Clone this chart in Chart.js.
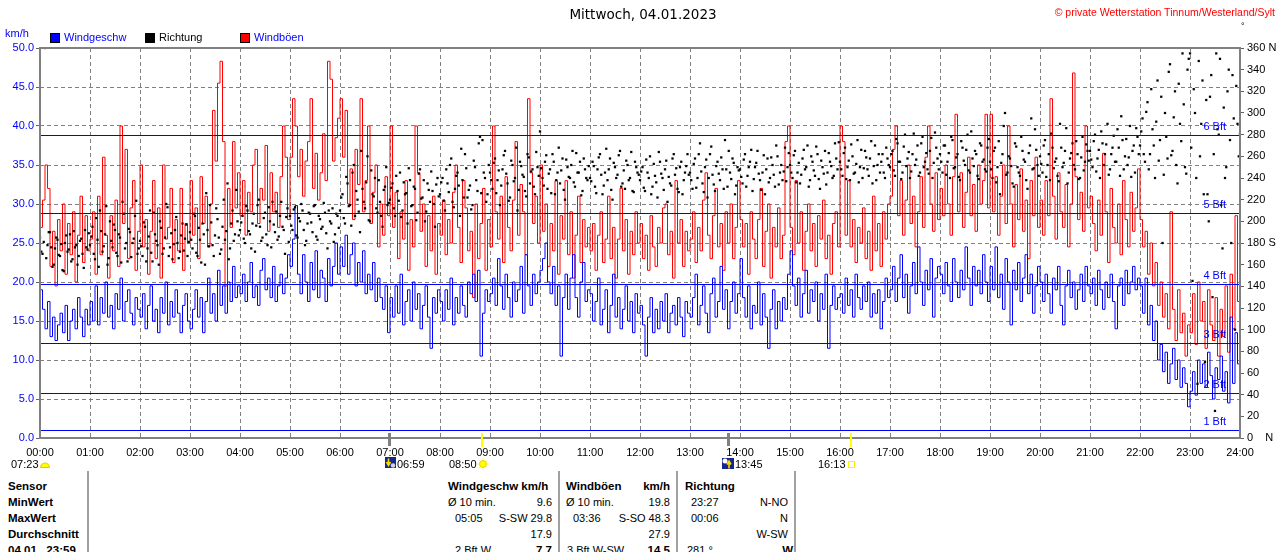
<!DOCTYPE html>
<html><head><meta charset="utf-8">
<script src="https://cdn.jsdelivr.net/npm/chart.js@4.4.0/dist/chart.umd.min.js"></script>
<style>
html,body{margin:0;padding:0;background:#fff;overflow:hidden;width:1280px;height:552px;}
#wrap{position:relative;width:1280px;height:552px;font-family:"Liberation Sans",Arial,sans-serif;font-size:11px;color:#000;}
canvas{position:absolute;left:0;top:0;}
.t{position:absolute;white-space:pre;line-height:14px;}
.b{font-weight:bold;font-size:11.5px;}
.sq{position:absolute;width:10px;height:10px;border:1px solid #000;box-sizing:border-box;}
.sep{position:absolute;top:471px;width:2px;height:81px;background:#a0a0a0;}
.ic{position:absolute;line-height:0;}
</style></head>
<body><div id="wrap"><canvas id="c" width="1280" height="470"></canvas></div>
<script>
// ---- data (3-minute steps, 00:00 .. 24:00) ----
const stepMinutes = 3;
const windSpeed = [
19.0,16.5,14.0,17.5,13.0,15.5,12.5,14.5,16.0,13.5,17.0,12.5,15.0,16.5,14.0,18.0,15.5,13.0,16.5,14.5,
17.5,15.0,19.5,14.5,18.0,16.0,20.0,15.5,17.0,14.0,18.5,16.5,20.5,15.0,17.5,19.0,16.0,14.5,18.0,16.5,
15.5,18.5,14.0,17.0,19.5,15.0,16.5,13.5,18.0,16.0,20.0,14.5,17.5,15.5,19.0,16.0,13.5,17.0,18.5,15.0,
14.0,16.5,19.0,15.5,18.0,13.5,17.5,20.5,16.0,18.5,15.0,21.5,17.0,19.5,16.0,20.0,17.5,22.0,18.0,19.5,
18.5,21.0,17.5,20.0,22.5,18.0,19.5,17.0,21.5,23.0,19.0,20.5,18.0,22.0,17.5,19.5,21.0,18.5,20.5,23.5,
22.0,25.5,29.8,21.0,18.5,23.5,20.0,17.5,22.5,19.0,24.0,18.0,21.5,20.5,17.5,23.0,19.5,22.0,25.0,21.0,
24.5,22.0,26.0,21.0,23.5,25.0,19.5,22.5,20.0,24.0,18.5,21.0,19.0,22.5,17.5,20.5,18.0,16.5,19.5,13.5,
18.0,15.5,19.5,16.0,21.0,14.5,17.5,19.0,15.0,20.0,16.5,18.5,14.0,17.0,19.5,15.5,11.5,18.0,16.0,19.0,
17.5,15.0,19.0,16.5,20.5,14.5,18.0,16.0,19.5,17.0,15.5,20.0,18.5,21.0,17.5,21.5,10.5,16.0,19.0,17.5,
18.5,20.5,17.0,23.0,19.5,16.5,21.0,18.0,15.5,20.0,17.5,19.0,22.0,16.0,23.5,19.5,17.0,21.0,18.5,20.0,
21.5,23.0,25.0,20.0,18.5,22.0,17.0,19.5,10.5,18.0,21.0,16.5,20.5,23.5,18.0,15.5,20.0,22.5,17.5,19.0,
18.5,15.0,17.5,20.5,14.5,16.5,19.0,13.5,17.0,21.0,15.5,18.0,14.0,16.5,19.5,15.0,17.5,13.5,18.5,16.0,
17.0,14.5,10.5,15.5,18.0,13.5,16.5,14.0,17.5,15.0,18.5,13.5,16.0,17.0,14.5,18.0,15.5,13.0,17.5,16.0,
15.5,18.0,21.0,14.5,17.0,19.5,16.0,13.5,18.5,20.5,15.5,17.5,22.0,16.5,19.0,14.0,17.5,20.0,16.0,18.5,
23.0,18.0,15.5,19.5,14.0,17.0,16.0,20.0,14.5,18.5,15.5,11.5,16.5,19.0,14.0,17.5,15.0,18.0,16.5,21.0,
24.0,19.5,17.0,20.5,15.5,18.5,21.5,16.0,19.0,17.5,20.0,15.0,18.5,16.5,21.0,11.5,17.0,19.5,16.5,18.0,
18.5,16.0,20.5,17.0,19.0,15.5,21.0,18.0,16.5,19.5,17.5,20.0,15.5,18.5,16.0,19.0,14.0,17.5,20.5,18.0,
19.0,22.0,17.5,20.5,23.5,18.0,21.0,16.0,19.5,22.5,18.5,24.5,20.0,17.0,21.5,19.0,23.0,15.5,20.5,22.0,
21.0,18.5,22.5,19.5,17.5,23.0,20.0,18.0,21.5,19.0,24.5,20.5,17.0,22.0,19.5,21.5,18.5,23.5,20.0,17.5,
22.0,19.0,24.5,18.0,21.0,16.5,23.0,20.0,14.5,21.5,19.0,22.5,17.5,20.5,23.5,18.5,21.0,16.0,19.5,22.0,
20.0,17.5,21.0,18.5,16.0,20.5,19.0,22.0,17.0,14.5,19.5,21.5,18.0,20.0,16.5,19.0,21.0,17.5,22.0,19.5,
18.5,20.5,17.0,21.5,19.0,16.5,20.0,18.0,21.0,17.5,14.0,19.5,20.5,17.0,21.5,18.5,20.0,22.0,19.0,20.5,
19.5,16.0,20.5,14.5,17.0,12.5,15.0,10.0,12.0,8.5,11.0,7.0,9.5,11.5,7.5,10.0,6.5,9.0,7.0,4.0,
6.0,8.5,5.5,10.0,7.0,9.5,6.5,11.0,8.0,5.0,9.0,7.5,10.5,6.0,8.5,4.5,15.5,7.0,13.5,9.5,
7.5];
const windGust = [
27.0,30.5,35.0,32.0,22.0,26.5,19.5,28.0,24.0,30.0,21.0,27.5,23.5,29.0,20.0,26.0,31.0,22.5,28.5,24.0,
25.5,29.0,21.0,31.0,23.5,36.0,26.0,20.5,28.5,24.0,30.5,22.0,40.0,27.5,37.0,23.0,29.5,33.0,21.5,26.5,
35.0,24.5,28.0,21.0,26.5,33.0,23.0,29.5,20.5,35.0,25.5,27.0,32.0,22.5,28.0,24.0,32.0,21.5,27.5,25.0,
33.0,26.0,29.5,23.0,33.5,27.5,31.0,24.5,30.0,42.0,35.5,45.5,48.3,38.0,19.5,32.0,27.0,38.0,29.5,34.0,
28.5,33.0,26.0,31.5,29.0,35.0,37.0,27.5,32.0,30.5,37.5,26.5,34.0,29.0,31.5,27.0,33.5,40.0,36.0,28.0,
36.0,43.5,40.0,33.5,37.0,31.0,35.5,38.0,43.5,32.0,36.5,30.5,34.0,39.0,33.0,48.3,46.0,35.5,38.5,41.0,
43.5,36.0,42.0,30.0,34.5,28.0,37.0,32.5,43.5,29.0,33.0,40.0,27.5,31.5,35.0,24.5,30.0,26.0,33.5,28.5,
40.0,27.0,31.5,23.0,29.0,25.5,33.0,21.5,28.0,24.5,40.0,34.0,26.5,30.0,22.0,28.5,24.0,31.0,21.0,27.5,
26.0,30.5,23.5,28.0,25.0,31.5,35.0,27.0,22.5,33.0,29.5,24.0,26.5,18.0,30.0,23.0,27.5,32.0,21.5,28.0,
24.5,40.0,29.0,25.5,31.0,22.5,33.5,27.0,24.0,30.5,38.0,26.0,32.5,29.0,23.5,43.5,34.0,27.5,31.0,25.0,
35.0,26.5,30.0,22.0,27.5,24.0,33.0,21.0,28.5,25.5,33.0,23.5,29.0,20.5,26.0,31.0,22.5,28.0,24.5,27.0,
24.0,27.5,21.5,26.0,29.0,22.5,25.5,31.0,23.0,27.0,20.5,25.5,32.0,24.0,28.0,21.0,26.5,23.5,29.0,25.0,
27.5,23.0,26.0,21.5,28.5,24.5,22.0,27.0,25.0,29.5,30.0,23.5,26.5,20.5,33.0,25.0,28.0,22.0,26.5,24.0,
25.5,29.0,22.5,27.0,24.0,30.5,34.0,26.0,23.0,28.5,32.0,24.5,27.5,21.5,29.0,25.0,30.0,23.0,27.0,33.0,
28.0,24.5,27.5,21.0,29.0,25.5,23.0,28.0,32.0,22.0,26.5,30.0,20.5,27.0,24.5,29.5,23.0,26.0,38.0,40.0,
27.0,23.5,33.0,25.0,29.0,21.5,26.5,30.0,24.0,27.5,22.0,28.5,25.5,30.5,23.0,26.0,21.0,27.5,29.0,24.5,
40.0,38.0,26.0,33.0,24.5,28.0,22.5,27.0,25.0,29.5,23.0,26.5,21.5,31.0,24.0,27.5,22.0,29.0,25.5,30.0,
31.0,37.0,40.0,28.5,33.0,26.0,30.5,35.0,27.5,31.0,24.5,29.0,33.5,27.0,36.0,40.0,30.0,26.5,34.0,28.0,
32.0,28.5,35.0,30.0,26.0,33.5,41.5,29.0,34.0,27.0,31.5,36.0,28.5,32.5,26.5,35.0,30.0,33.0,41.5,29.5,
41.5,29.0,33.5,26.0,31.0,35.0,27.5,40.0,30.0,24.5,32.5,28.0,34.5,26.5,30.5,23.0,33.0,28.5,36.0,27.0,
30.5,26.0,33.0,28.5,43.5,31.0,25.5,34.0,29.0,27.0,32.5,24.5,30.0,46.8,33.5,28.0,31.5,26.5,40.0,29.5,
31.0,27.5,24.0,30.5,26.0,36.5,29.0,22.5,32.0,27.0,25.0,30.0,23.5,33.0,28.0,24.5,31.5,26.5,29.5,34.5,
28.0,24.5,26.5,21.0,25.0,19.5,22.5,17.0,20.0,15.5,18.5,14.0,29.0,16.5,12.5,19.0,13.5,16.0,10.5,14.5,
13.5,18.5,12.0,20.0,15.0,17.5,11.5,19.0,14.5,12.5,18.0,10.5,16.5,13.0,19.5,11.0,21.0,14.0,28.5,17.5,
32.0];
// direction readings at the full 3-minute marks
const windDir = [
185,170,360,178,190,158,175,183,168,155,180,172,188,165,176,160,182,170,192,174,
178,195,165,183,210,172,188,160,200,176,192,168,185,218,175,163,190,180,205,170,
182,168,195,175,210,163,188,178,200,170,185,213,176,165,192,180,172,198,184,168,
190,175,205,168,183,198,160,192,215,178,187,202,170,195,183,235,175,210,188,200,
192,205,180,210,188,198,172,215,195,185,208,178,200,218,190,183,205,195,170,212,
205,192,213,185,200,210,178,198,207,190,215,183,202,195,208,175,200,212,188,205,
210,225,198,235,215,245,205,220,190,230,212,260,200,225,240,208,218,195,232,215,
220,235,205,228,245,210,225,198,238,215,230,208,248,222,200,235,218,228,195,240,
225,240,210,235,252,218,230,245,205,238,262,222,233,215,250,228,278,275,240,225,
245,230,258,238,215,248,265,235,222,252,240,210,255,243,228,262,235,248,225,250,
283,240,255,230,248,262,225,245,235,258,220,250,240,265,232,245,255,228,248,238,
240,255,232,248,262,225,245,238,258,220,250,243,265,235,230,252,240,228,255,245,
238,250,228,245,260,232,242,222,255,240,248,218,235,258,243,230,250,225,245,262,
245,230,258,240,272,235,250,222,262,243,228,255,238,248,275,232,245,258,225,250,
248,235,262,242,255,228,250,265,238,245,225,258,240,252,232,260,245,238,268,250,
252,240,265,245,235,258,248,270,238,255,242,262,230,250,265,245,255,240,272,248,
255,242,268,250,238,260,245,275,250,240,265,248,258,235,270,252,245,262,240,258,
250,265,242,272,255,245,280,258,240,262,252,270,245,278,255,248,265,240,282,258,
262,245,270,255,240,275,250,262,238,268,252,280,245,258,265,242,272,255,248,268,
255,240,268,250,225,262,300,245,258,235,272,250,242,265,255,230,270,248,285,252,
260,245,275,252,238,268,255,242,290,250,265,235,258,272,248,262,240,278,255,265,
265,250,280,258,240,272,262,290,248,268,255,285,242,275,260,252,288,265,245,278,
270,295,255,310,262,285,240,330,275,180,300,258,345,265,320,235,290,355,250,340,
355,145,300,50,260,330,70,225,315,130,25,285,350,175,240,320,275,335,100,290,
281];
// direction readings in between (offset 1.5 minutes)
const windDirMid = [
172,181,166,190,176,160,185,169,179,154,187,174,163,191,178,168,184,157,176,189,
186,170,203,158,191,177,214,166,182,197,171,188,162,207,180,193,167,184,219,175,
177,199,163,186,171,208,182,160,194,175,216,168,189,179,204,166,187,173,197,181,
183,207,171,194,162,188,226,177,199,168,212,185,174,220,191,165,198,182,229,187,
199,184,214,191,175,207,196,220,182,203,188,213,176,197,209,186,218,192,204,181,
196,211,187,203,216,192,182,208,199,214,186,205,193,217,189,210,198,181,207,194,
222,203,241,214,196,252,228,209,265,218,236,201,247,223,212,238,205,229,250,217,
231,212,242,219,204,236,226,249,214,232,201,244,221,238,209,229,246,216,234,223,
236,219,248,227,258,213,242,233,267,222,249,229,211,256,238,272,226,245,218,252,
238,254,226,247,233,261,244,219,256,237,268,229,251,241,223,259,246,232,264,242,
249,233,261,244,226,255,238,268,247,229,257,241,252,236,263,245,224,258,240,251,
237,251,226,259,243,233,267,248,229,254,240,261,232,247,256,238,264,227,250,243,
246,231,257,240,225,253,236,264,244,229,256,241,233,262,249,227,255,238,251,243,
238,253,231,262,246,227,257,240,269,234,251,244,259,230,248,265,239,254,233,247,
241,257,232,250,266,239,254,244,229,261,248,236,259,243,270,234,252,246,237,263,
245,261,236,254,243,266,250,232,260,247,269,239,256,244,234,263,251,242,258,273,
248,263,239,256,271,244,253,236,266,249,259,242,274,251,238,262,255,245,268,252,
262,247,276,255,239,269,251,264,246,281,257,242,272,250,263,244,277,254,268,248,
255,270,243,263,278,249,259,241,274,256,266,247,283,251,262,239,270,257,246,276,
248,265,236,274,254,288,243,260,251,232,269,245,278,257,238,263,295,249,266,242,
253,270,241,262,281,249,258,237,268,254,286,245,263,252,274,239,259,247,271,256,
257,274,246,266,283,252,271,243,262,279,255,268,297,248,276,259,241,270,286,262,
283,262,301,248,322,270,292,256,315,243,278,338,261,296,252,327,274,308,244,350,
268,322,240,348,290,225,312,200,335,262,355,280,215,305,250,340,180,295,325,260];
const hourLabels = ['00:00','01:00','02:00','03:00','04:00','05:00','06:00','07:00','08:00','09:00','10:00','11:00','12:00',
 '13:00','14:00','15:00','16:00','17:00','18:00','19:00','20:00','21:00','22:00','23:00','24:00'];
const dirNames = {0:'0    N', 180:'180 S', 360:'360 N'};
const bftValues = [1.08, 5.76, 12.24, 19.8, 28.8, 38.88];
const bftLabels = ['1 Bft','2 Bft','3 Bft','4 Bft','5 Bft','6 Bft'];
// sun / moon events (minutes after midnight)
const eventTimes = [530, 973, 419, 825];   // sunrise 08:50, sunset 16:13, moonset 06:59, moonrise 13:45
const eventKinds = ['sun','sun','moon','moon'];

// ---- chart ----
Chart.defaults.font.family = '"Liberation Sans", Arial, sans-serif';
Chart.defaults.font.size = 11;
const toPts = (arr, off=0) => arr.map((v,i)=>({x:i*stepMinutes+off, y:v}));

const overlay = {
  id:'overlay',
  afterDatasetsDraw(chart){
    const {ctx, chartArea:a, scales:{y}} = chart;
    ctx.save();
    // Beaufort threshold lines (crisp, via the y scale)
    ctx.strokeStyle='#0000ff'; ctx.lineWidth=1;
    bftValues.forEach(v=>{
      const py = Math.round(y.getPixelForValue(v)) + 0.5;
      ctx.beginPath(); ctx.moveTo(a.left, py); ctx.lineTo(a.right, py); ctx.stroke();
    });
    ctx.fillStyle='#0000ff'; ctx.font='11px "Liberation Sans", Arial, sans-serif';
    ctx.textAlign='right'; ctx.textBaseline='alphabetic';
    bftValues.forEach((v,i)=>ctx.fillText(bftLabels[i], a.right-14, Math.round(y.getPixelForValue(v))-5));
    ctx.restore();
  },
  afterDraw(chart){
    const {ctx, chartArea:a, scales:{x}} = chart;
    ctx.save();
    ctx.strokeStyle='#808080'; ctx.lineWidth=2;
    ctx.strokeRect(a.left, a.top, a.right-a.left, a.bottom-a.top);
    eventTimes.forEach((t,i)=>{
      const px = Math.round(x.getPixelForValue(t));
      if(eventKinds[i]==='sun'){ ctx.fillStyle='#ffff00'; ctx.fillRect(px-1, a.bottom-5, 2, 14); }
      else { ctx.fillStyle='#808080'; ctx.fillRect(px-1, a.bottom-5, 3, 13); }
    });
    ctx.restore();
  }
};

const dirPts = toPts(windDir).concat(toPts(windDirMid, 1.5));

new Chart(document.getElementById('c'), {
  type:'line',
  data:{datasets:[
    {type:'scatter', label:'Richtung', data:dirPts, yAxisID:'y2', backgroundColor:'#000', borderColor:'#000', borderWidth:0, pointStyle:'rect', pointRadius:1.6, order:0},
    {label:'Windgeschw', data:toPts(windSpeed), borderColor:'#0000ff', borderWidth:1, pointRadius:0, stepped:true, yAxisID:'y', order:2},
    {label:'Windböen', data:toPts(windGust), borderColor:'#ff0000', borderWidth:1, pointRadius:0, stepped:true, yAxisID:'y', order:3}
  ]},
  options:{
    responsive:false, animation:false, devicePixelRatio:1,
    layout:{padding:{top:48,left:0,right:0,bottom:0}},
    plugins:{legend:{display:false}, tooltip:{enabled:false}, title:{display:false}},
    scales:{
      x:{type:'linear', min:0, max:1440, afterFit:s=>{s.height=32;},
         ticks:{stepSize:60, autoSkip:false, maxRotation:0, color:'#000', padding:8, callback:v=>hourLabels[Math.round(v/60)]},
         grid:{color:'#808080', drawTicks:false, lineWidth:1}, border:{display:false, dash:[4,3]}},
      y:{position:'left', min:0, max:50, afterFit:s=>{s.width=40;},
         ticks:{stepSize:5, color:'#0000ff', padding:2, callback:v=>Number(v).toFixed(1)},
         grid:{color:'#808080', tickLength:4, tickBorderDash:[], tickColor:'#606060'}, border:{display:false, dash:[4,3]}},
      y2:{position:'right', min:0, max:360, afterFit:s=>{s.width=40;},
         ticks:{stepSize:20, color:'#000', padding:3, callback:v=>dirNames[v]!==undefined?dirNames[v]:String(v)},
         grid:{drawOnChartArea:false, tickLength:4, tickColor:'#606060'}, border:{display:false}}
    }
  },
  plugins:[overlay]
});

// ---- text & decorations ----
const wrap = document.getElementById('wrap');
function T(s, x, y, o={}){
  const d=document.createElement('div'); d.className='t'+(o.b?' b':''); d.textContent=s;
  if(o.r){ d.style.right=(1280-x)+'px'; d.style.textAlign='right'; } else d.style.left=x+'px';
  d.style.top=y+'px'; if(o.c) d.style.color=o.c; if(o.f) d.style.font=o.f;
  if(o.center){ d.style.transform='translateX(-50%)'; }
  wrap.appendChild(d); return d;
}
function H(html, x, y){ const d=document.createElement('div'); d.className='ic'; d.style.left=x+'px'; d.style.top=y+'px'; d.innerHTML=html; wrap.appendChild(d); }

T('Mittwoch, 04.01.2023', 643, 6, {center:true, f:'13.5px "DejaVu Sans", sans-serif'});
T('© private Wetterstation Tinnum/Westerland/Sylt', 1275, 6, {r:true, c:'#ff0000', f:'10.5px "Liberation Sans", Arial, sans-serif'});
T('°', 1241, 21, {f:'9px "Liberation Sans", Arial, sans-serif'});
T('km/h', 5, 26, {c:'#0000ff'});

const legendItems = [['Windgeschw','#0000ff','#0000ff',50],['Richtung','#000000','#000000',145],['Windböen','#ff0000','#0000ff',240]];
legendItems.forEach(([name, box, col, x])=>{
  const s=document.createElement('div'); s.className='sq'; s.style.left=x+'px'; s.style.top='33px'; s.style.background=box; wrap.appendChild(s);
  T(name, x+14, 30, {c:col});
});

// sun / moon row
T('07:23', 11, 457);
H('<svg width="10" height="8"><path d="M0.5,7.5 A4.5,4.5 0 0 1 9.5,7.5 Z" fill="#ffff00" stroke="#e8c800" stroke-width="1"/></svg>', 40, 460);
H('<svg width="11" height="11"><rect width="11" height="11" fill="#14288c"/><circle cx="8" cy="8.5" r="2.3" fill="#d0d0e8"/><path d="M3.5,1.5 V7.5 M1.5,5 L3.5,8.5 L5.5,5" stroke="#ffd800" stroke-width="1.6" fill="none"/></svg>', 385, 457);
T('06:59', 397, 457);
T('08:50', 449, 457);
H('<svg width="12" height="12"><g stroke="#fff080" stroke-width="1"><line x1="6" y1="0" x2="6" y2="12"/><line x1="0" y1="6" x2="12" y2="6"/><line x1="2" y1="2" x2="10" y2="10"/><line x1="10" y1="2" x2="2" y2="10"/></g><circle cx="6" cy="6" r="3.5" fill="#ffff00" stroke="#f0d000"/></svg>', 477, 458);
H('<svg width="12" height="11"><rect width="12" height="11" fill="#14288c"/><circle cx="3" cy="3" r="2.5" fill="#ffffff"/><path d="M7,10.5 V4 M5,6.5 L7,3 L9,6.5" stroke="#ffd800" stroke-width="1.6" fill="none"/></svg>', 722, 458);
T('13:45', 735, 457);
T('16:13', 818, 457);
H('<div style="width:7px;height:7px;border:1px solid #ffee00;box-sizing:border-box"></div>', 848, 461);

// table
[87, 558, 676, 794].forEach(x=>{ const d=document.createElement('div'); d.className='sep'; d.style.left=x+'px'; wrap.appendChild(d); });
const rowTop = [479, 495, 511, 527, 543];
const rowNames = ['Sensor','MinWert','MaxWert','Durchschnitt','04.01.  23:59'];
rowNames.forEach((n,i)=>T(n, 8, rowTop[i], {b:true}));
T('Windgeschw km/h', 448, rowTop[0], {b:true});
T('Windböen', 566, rowTop[0], {b:true});
T('km/h', 670, rowTop[0], {b:true, r:true});
T('Richtung', 685, rowTop[0], {b:true});
// Windgeschw column
T('Ø 10 min.', 448, rowTop[1]); T('9.6', 552, rowTop[1], {r:true});
T('05:05', 455, rowTop[2]); T('S-SW 29.8', 552, rowTop[2], {r:true});
T('17.9', 552, rowTop[3], {r:true});
T('2 Bft W', 455, rowTop[4]); T('7.7', 552, rowTop[4], {r:true, b:true});
// Windböen column
T('Ø 10 min.', 566, rowTop[1]); T('19.8', 670, rowTop[1], {r:true});
T('03:36', 573, rowTop[2]); T('S-SO 48.3', 670, rowTop[2], {r:true});
T('27.9', 670, rowTop[3], {r:true});
T('3 Bft W-SW', 567, rowTop[4]); T('14.5', 670, rowTop[4], {r:true, b:true});
// Richtung column
T('23:27', 691, rowTop[1]); T('N-NO', 788, rowTop[1], {r:true});
T('00:06', 691, rowTop[2]); T('N', 788, rowTop[2], {r:true});
T('W-SW', 788, rowTop[3], {r:true});
T('281 °', 687, rowTop[4]); T('W', 793, rowTop[4], {r:true, b:true});
</script>
</body></html>
